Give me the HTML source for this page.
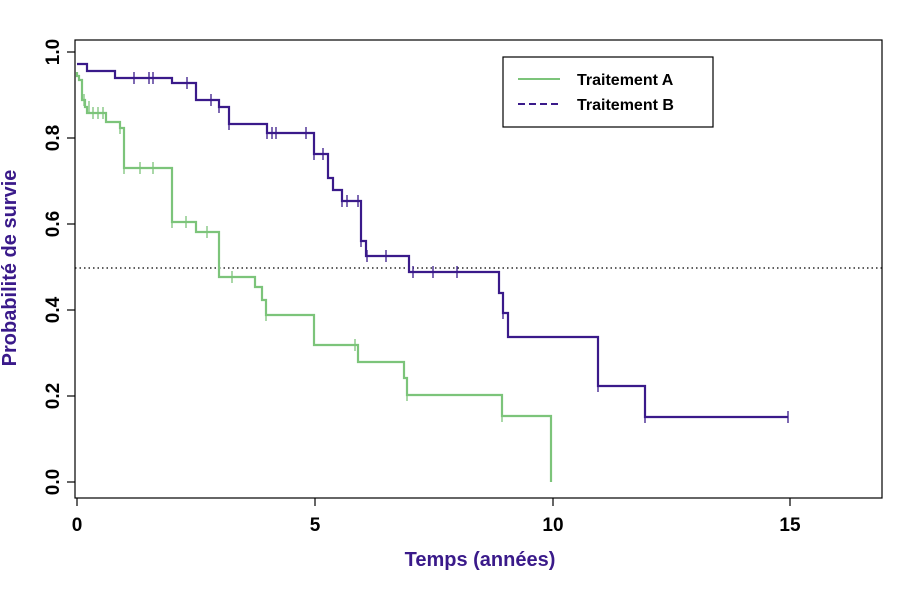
<!DOCTYPE html>
<html><head><meta charset="utf-8"><style>body{margin:0;background:#fff}svg{display:block}</style></head>
<body>
<svg width="920" height="612" xmlns="http://www.w3.org/2000/svg" font-family="Liberation Sans, Arial, sans-serif">
<rect width="920" height="612" fill="#fff"/>
<rect x="75" y="40" width="807" height="458" fill="none" stroke="#000" stroke-width="1.2"/>
<g stroke="#000" stroke-width="1.2">
<line x1="67" y1="52" x2="75" y2="52"/><line x1="67" y1="138" x2="75" y2="138"/><line x1="67" y1="224" x2="75" y2="224"/>
<line x1="67" y1="310" x2="75" y2="310"/><line x1="67" y1="396" x2="75" y2="396"/><line x1="67" y1="482" x2="75" y2="482"/>
<line x1="77" y1="498" x2="77" y2="506"/><line x1="315" y1="498" x2="315" y2="506"/><line x1="553" y1="498" x2="553" y2="506"/><line x1="790" y1="498" x2="790" y2="506"/>
</g>
<g font-size="19" font-weight="bold" fill="#000" text-anchor="middle">
<text transform="translate(53,52) rotate(-90)" dy="6">1.0</text>
<text transform="translate(53,138) rotate(-90)" dy="6">0.8</text>
<text transform="translate(53,224) rotate(-90)" dy="6">0.6</text>
<text transform="translate(53,310) rotate(-90)" dy="6">0.4</text>
<text transform="translate(53,396) rotate(-90)" dy="6">0.2</text>
<text transform="translate(53,482) rotate(-90)" dy="6">0.0</text>
<text x="77" y="531">0</text><text x="315" y="531">5</text><text x="553" y="531">10</text><text x="790" y="531">15</text>
</g>
<text x="480" y="566" text-anchor="middle" font-size="20" font-weight="bold" fill="#3a1a8a">Temps (années)</text>
<text transform="translate(16,268) rotate(-90)" text-anchor="middle" font-size="20" font-weight="bold" fill="#3a1a8a">Probabilité de survie</text>
<line x1="75" y1="268" x2="882" y2="268" stroke="#000" stroke-width="1.2" stroke-dasharray="1.5,3"/>
<path fill="none" stroke="#7cc47a" stroke-width="2.2" d="M77 72 V76 H79 V80 H82 V100 H85 V107 H87 V113 H106 V122 H120 V128 H124 V168 H172 V222 H196 V232 H219 V277 H255 V287 H262 V300 H266 V315 H314 V345 H358 V362 H404 V378 H407 V395 H502 V416 H551 V482"/>
<g stroke="#7cc47a" stroke-width="1.3">
<path d="M84 94v12M89 101v12M93 107v12M98 107v12M103 107v12M120 122v12M124 162v12M140 162v12M153 162v12M172 216v12M186 216v12M207 226v12M232 271v12M266 309v12M355 339v12M407 389v12M502 410v12"/>
</g>
<path fill="none" stroke="#3a1a8a" stroke-width="2.2" d="M77 64 H87 V71 H115 V78 H172 V83 H196 V100 H219 V107 H229 V124 H267 V133 H314 V154 H328 V178 H333 V190 H342 V201 H361 V241 H366 V256 H409 V272 H499 V293 H503 V313 H508 V337 H598 V386 H645 V417 H788"/>
<g stroke="#3a1a8a" stroke-width="1.3">
<path d="M134 72v12M149 72v12M153 72v12M187 77v12M211 94v12M219 101v12M229 118v12M267 127v12M272 127v12M276 127v12M306 127v12M314 148v12M323 148v12M342 195v12M347 195v12M358 195v12M361 235v12M367 250v12M386 250v12M413 266v12M433 266v12M457 266v12M503 307v12M598 380v12M645 411v12M788 411v12"/>
</g>
<rect x="503" y="57" width="210" height="70" fill="#fff" stroke="#000" stroke-width="1.2"/>
<line x1="518" y1="79" x2="560" y2="79" stroke="#7cc47a" stroke-width="2"/>
<line x1="518" y1="104" x2="560" y2="104" stroke="#3a1a8a" stroke-width="2" stroke-dasharray="7,4"/>
<text x="577" y="85" font-size="16" font-weight="bold" fill="#000">Traitement A</text>
<text x="577" y="110" font-size="16" font-weight="bold" fill="#000">Traitement B</text>
</svg>
</body></html>
